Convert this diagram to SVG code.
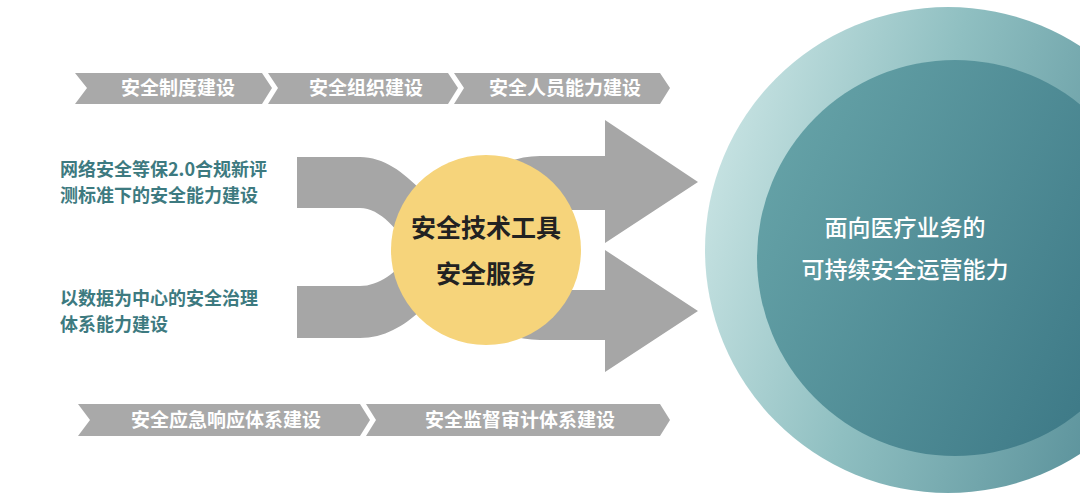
<svg xmlns="http://www.w3.org/2000/svg" width="1080" height="503" viewBox="0 0 1080 503">
<defs>
<linearGradient id="og" x1="0" y1="0" x2="1" y2="0.3"><stop offset="0" stop-color="#d4ebea"/><stop offset="0.5" stop-color="#8fbfc1"/><stop offset="1" stop-color="#5b929b"/></linearGradient>
<linearGradient id="ig" x1="0" y1="0" x2="1" y2="0.5"><stop offset="0" stop-color="#6aa7ab"/><stop offset="1" stop-color="#3f7b88"/></linearGradient>
<style>
.chev{fill:#a9a9a9}
.ct{font-family:"Noto Sans CJK SC",sans-serif;font-weight:bold;font-size:19px;fill:#fff;text-anchor:middle}
.lt{font-family:"Noto Sans CJK SC",sans-serif;font-weight:bold;font-size:18px;fill:#3d7a80}
.arr{fill:#a6a6a6}
</style>
</defs>
<rect width="1080" height="503" fill="#fff"/>
<g id="outer-circle"><circle cx="948" cy="250" r="243" fill="url(#og)"/><circle cx="955" cy="258" r="198" fill="url(#ig)"/>
<text x="905" y="236" font-family="Noto Sans CJK SC,sans-serif" font-weight="500" font-size="23" fill="#fff" text-anchor="middle">面向医疗业务的</text>
<text x="905" y="278" font-family="Noto Sans CJK SC,sans-serif" font-weight="500" font-size="23" fill="#fff" text-anchor="middle">可持续安全运营能力</text></g>
<g id="top-row">
<path class="chev" d="M75,73 H262 L272,88 L262,104 H75 L87,88 Z"/><text class="ct" x="178" y="95">安全制度建设</text>
<path class="chev" d="M268,73 H448 L458,88 L448,104 H268 L278,88 Z"/><text class="ct" x="366" y="95">安全组织建设</text>
<path class="chev" d="M454,73 H660 L670,88 L660,104 H454 L464,88 Z"/><text class="ct" x="565" y="95">安全人员能力建设</text>
</g>
<g id="bottom-row">
<path class="chev" d="M78,404 H360 L370,420 L360,436 H78 L90,420 Z"/><text class="ct" x="226" y="427">安全应急响应体系建设</text>
<path class="chev" d="M366,404 H660 L670,420 L660,436 H366 L376,420 Z"/><text class="ct" x="520" y="427">安全监督审计体系建设</text>
</g>
<g id="connectors">
<path class="arr" d="M297,157 H360 C430,157 470,290 540,290 H605 V250 L698,311 L605,372 V340 H540 C440,340 410,208 360,208 H297 Z"/>
<path class="arr" d="M297,286 H360 C420,286 450,156 540,156 H605 V120 L698,182 L605,243 V210 H540 C470,210 440,338 360,338 H297 Z"/>
</g>
<g id="left-texts">
<text class="lt" x="60" y="176">网络安全等保2.0合规新评</text>
<text class="lt" x="60" y="202">测标准下的安全能力建设</text>
<text class="lt" x="60" y="305">以数据为中心的安全治理</text>
<text class="lt" x="60" y="331">体系能力建设</text>
</g>
<g id="center">
<circle cx="486" cy="250" r="95" fill="#f6d47b"/>
<text x="486" y="237" font-family="Noto Sans CJK SC,sans-serif" font-weight="bold" font-size="25" fill="#222" text-anchor="middle">安全技术工具</text>
<text x="486" y="283" font-family="Noto Sans CJK SC,sans-serif" font-weight="bold" font-size="25" fill="#222" text-anchor="middle">安全服务</text>
</g>
</svg>
